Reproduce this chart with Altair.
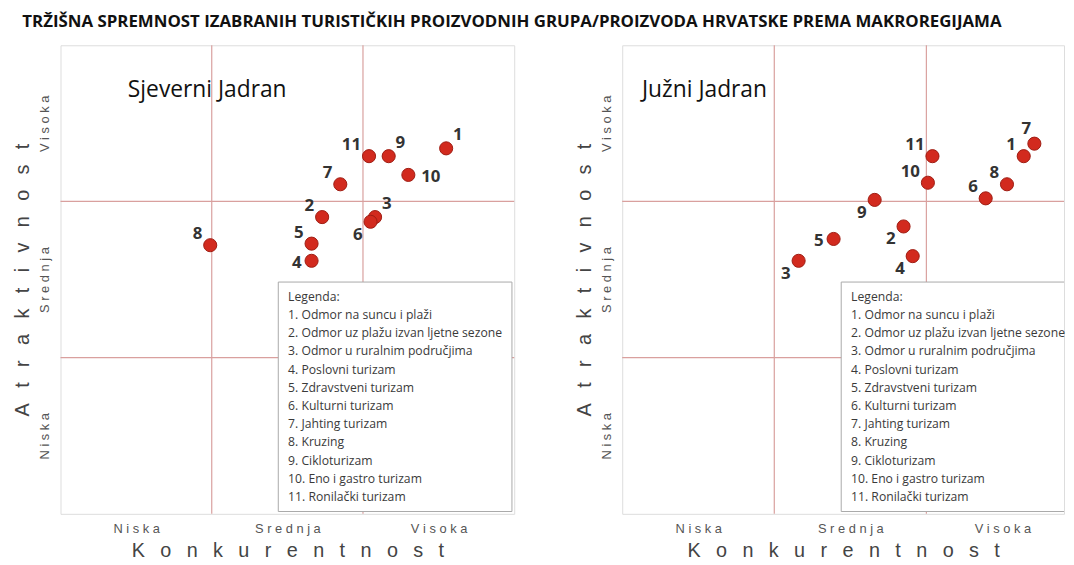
import altair as alt
import pandas as pd

# ---------------- data ----------------
title_text = "TRŽIŠNA SPREMNOST IZABRANIH TURISTIČKIH PROIZVODNIH GRUPA/PROIZVODA HRVATSKE PREMA MAKROREGIJAMA"
levels = ["Niska", "Srednja", "Visoka"]
x_title = "Konkurentnost"
y_title = "Atraktivnost"
legend_title = "Legenda:"
ids = list(range(1, 12))
products = [
    "Odmor na suncu i plaži",
    "Odmor uz plažu izvan ljetne sezone",
    "Odmor u ruralnim područjima",
    "Poslovni turizam",
    "Zdravstveni turizam",
    "Kulturni turizam",
    "Jahting turizam",
    "Kruzing",
    "Cikloturizam",
    "Eno i gastro turizam",
    "Ronilački turizam",
]

sj_name = "Sjeverni Jadran"
sj_konk = [2.55, 1.73, 2.08, 1.66, 1.66, 2.05, 1.85, 0.99, 2.17, 2.30, 2.04]
sj_atr = [2.34, 1.90, 1.90, 1.62, 1.73, 1.87, 2.11, 1.72, 2.29, 2.17, 2.29]
sj_pos = ["ne", "nw", "ne", "w", "nw", "sw", "nw", "nw", "ne", "e", "nw"]

jj_name = "Južni Jadran"
jj_konk = [2.64, 1.85, 1.16, 1.91, 1.39, 2.39, 2.71, 2.53, 1.66, 2.01, 2.04]
jj_atr = [2.29, 1.84, 1.62, 1.65, 1.76, 2.02, 2.37, 2.11, 2.01, 2.12, 2.29]
jj_pos = ["nw", "sw", "sw", "sw", "w", "nw", "n", "nw", "sw", "nw", "nw"]

# ---------------- styling ----------------
RED = "#d22a1e"
RED_EDGE = "#9e1c12"
FRAME = "#d8817d"
GRID = "#d9a09e"
BG = "#f0f0fa"
PLOT_H = 473

offsets = {
    "ne": dict(align="left", dx=7, dy=-13),
    "nw": dict(align="right", dx=-8, dy=-11),
    "sw": dict(align="right", dx=-8, dy=13),
    "w": dict(align="right", dx=-10, dy=2),
    "e": dict(align="left", dx=13, dy=2),
    "n": dict(align="center", dx=-8, dy=-15),
}


def spaced(s, sep):
    return sep.join(list(s))


wide = "\u2002 "
lvl_sp = [spaced(l, " ") for l in levels]
label_expr = (
    f"datum.value < 1 ? '{lvl_sp[0]}' : datum.value < 2 ? '{lvl_sp[1]}' : '{lvl_sp[2]}'"
)

legend_rows = [legend_title] + [f"{i}. {p}" for i, p in zip(ids, products)]


def panel(name, konk, atr, pos, width, xmax, box_x2, name_x):
    pts = pd.DataFrame({"x": konk, "y": atr, "id": [str(i) for i in ids], "pos": pos})
    xs = alt.Scale(domain=[0, xmax], nice=False, zero=False)
    ys = alt.Scale(domain=[0, 3], nice=False, zero=False)
    xax = alt.Axis(
        values=[0.5, 1.5, 2.5], labelExpr=label_expr, title=spaced(x_title, wide),
        domain=False, ticks=False, grid=False, labelFont="Liberation Sans",
        labelFontSize=13, labelColor="#555", labelPadding=9,
        titleFont="Liberation Sans", titleFontSize=20, titleFontWeight="normal",
        titleColor="#444", titlePadding=5,
    )
    yax = alt.Axis(
        values=[0.5, 1.5, 2.5], labelExpr=label_expr, title=spaced(y_title, wide),
        domain=False, ticks=False, grid=False, labelFont="Liberation Sans",
        labelFontSize=13, labelColor="#555", labelPadding=9, labelAngle=-90,
        labelAlign="center", labelBaseline="bottom",
        titleFont="Liberation Sans", titleFontSize=20, titleFontWeight="normal",
        titleColor="#444", titlePadding=6,
    )
    X = alt.X("x:Q", scale=xs, axis=xax)
    Y = alt.Y("y:Q", scale=ys, axis=yax)

    grid_df = pd.DataFrame({"v": [1, 2]})
    vrules = alt.Chart(grid_df).mark_rule(color=GRID, strokeWidth=1.2).encode(
        x=alt.X("v:Q", scale=xs, axis=xax)
    )
    hrules = alt.Chart(grid_df).mark_rule(color=GRID, strokeWidth=1.2).encode(
        y=alt.Y("v:Q", scale=ys, axis=yax)
    )

    box = alt.Chart(pd.DataFrame({"a": [0]})).mark_rect(
        fill="white", stroke="#a9a9a9", strokeWidth=1, clip=True
    ).encode(
        x=alt.datum(1.44, scale=xs),
        x2=alt.datum(box_x2),
        y=alt.datum(0.015, scale=ys),
        y2=alt.datum(1.484),
    )
    leg = alt.Chart(pd.DataFrame({"row": list(range(len(legend_rows))), "t": legend_rows})).transform_calculate(
        lx="1.505", ly="1.389 - 0.1165 * datum.row"
    ).mark_text(
        align="left", baseline="middle", font="Open Sans", fontSize=12.3, color="#3a3a3a"
    ).encode(
        x=alt.X("lx:Q", scale=xs, axis=xax), y=alt.Y("ly:Q", scale=ys, axis=yax), text="t:N"
    )

    points = alt.Chart(pts).mark_circle(
        size=175, color=RED, stroke=RED_EDGE, strokeWidth=1, opacity=1
    ).encode(x=X, y=Y)

    labels = []
    for key, o in offsets.items():
        labels.append(
            alt.Chart(pts).transform_filter(alt.datum.pos == key).mark_text(
                baseline="middle", font="Open Sans", fontSize=17, fontWeight="bold",
                color="#333", **o
            ).encode(x=X, y=Y, text="id:N")
        )

    pname = alt.Chart(pd.DataFrame({"n": [name]})).mark_text(
        align="left", baseline="middle", font="Open Sans", fontSize=23, color="#111"
    ).encode(x=alt.value(name_x), y=alt.value(45), text="n:N")

    return alt.layer(vrules, hrules, points, *labels, box, leg, pname).properties(
        width=width, height=PLOT_H
    )


left = panel(sj_name, sj_konk, sj_atr, sj_pos, 458, 3.0, 2.985, 68)
right = panel(jj_name, jj_konk, jj_atr, jj_pos, 446, 2.905, 3.3, 20)

chart = alt.hconcat(left, right, spacing=58).properties(
    title=alt.TitleParams(
        title_text, anchor="start", dx=10, font="Open Sans",
        fontSize=17, fontWeight="bold", color="#111", offset=13,
    ),
    padding={"left": 4, "top": 2, "right": 0, "bottom": 0},
).configure_view(fill=BG, stroke=FRAME, strokeWidth=1.5).configure(background="white")

chart.save("out.html", embed_options={"renderer": "svg", "actions": False})
